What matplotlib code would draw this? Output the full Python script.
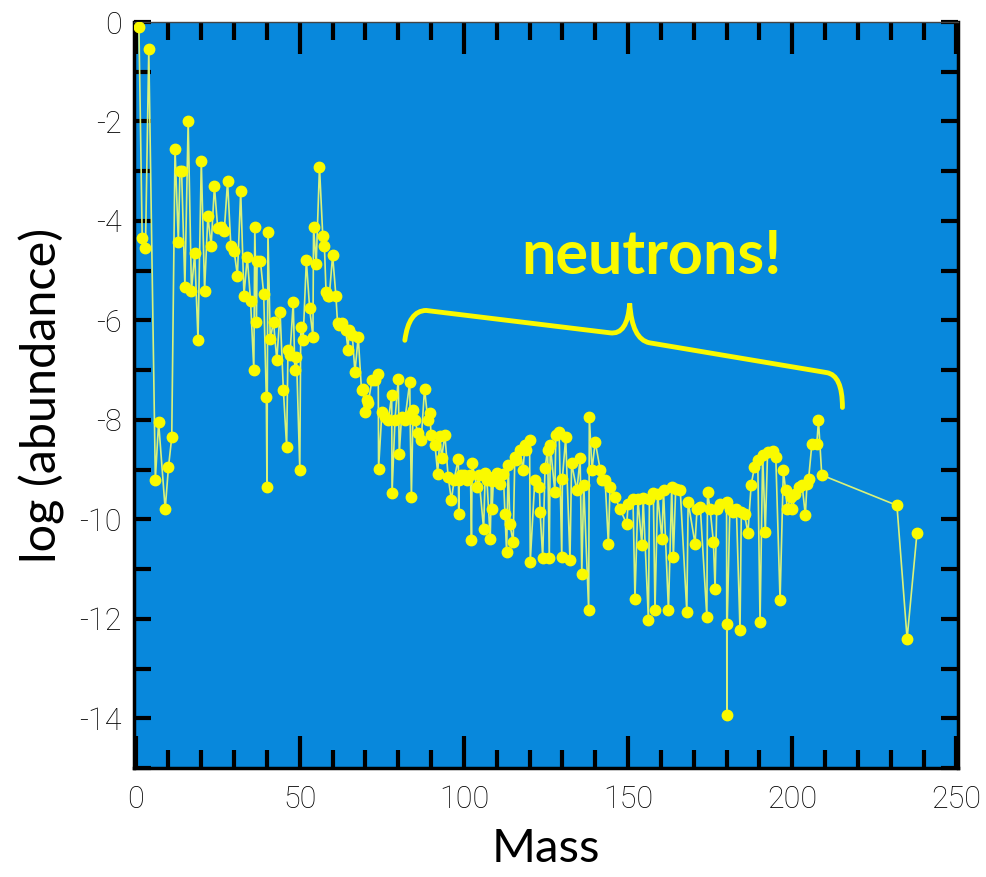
import matplotlib
matplotlib.use("Agg")
import matplotlib.pyplot as plt
from matplotlib.path import Path
from matplotlib.patches import PathPatch
from matplotlib.ticker import MultipleLocator

plt.rcParams['axes.unicode_minus'] = False

# abundance pattern (mass number, log10 abundance)
mass = [1, 2, 3, 4, 6, 7, 9, 10, 11,
        12, 13, 13.5, 14, 15, 16, 17, 18, 19, 20, 21, 22, 23, 24, 25, 26, 27, 28, 29, 30,
        31, 32, 33, 34, 35, 36, 36.3, 36.8, 37, 38, 39, 39.8, 40, 40.3, 41, 42, 43, 44,
        45, 46, 46.4, 47, 48, 48.5, 49, 50, 50.3, 51, 52, 53, 54, 54.2, 55, 56, 57, 57.5,
        58, 58.5, 59, 60, 61, 61.5, 62, 63, 64, 64.7, 65, 66, 66.8, 67.8, 68.8, 69.3,
        69.8, 70.5, 70.8, 72, 73, 73.9, 74, 75, 76, 77, 78, 78.1, 79, 80, 80.3, 81, 82,
        83.5, 83.6, 84, 84.5, 85, 86, 87, 88, 89, 89.6, 90, 91.2, 92, 92.7, 93.2, 94.2,
        95.2, 96.2, 97, 98.3, 98.4, 98.6, 99, 100, 101, 102, 102.3, 102.5, 103.9, 104.5,
        106, 106.5, 107, 108, 108.4, 108.6, 109, 110, 111, 112, 112.5, 113, 113.5, 114,
        115, 115.5, 116, 117, 118, 118.6, 119, 120, 120.2, 121.6, 123, 123.2, 124, 124.7,
        125.5, 126, 126.3, 127.7, 128, 129, 129.8, 130, 131, 132.3, 132.8, 134.4, 135.4,
        135.9, 136.5, 138, 138.2, 139, 140, 141.5, 142, 143, 144, 144.5, 146, 147.6,
        149.6, 150, 151.5, 152.1, 153, 154.2, 154.6, 156.2, 156.5, 157.7, 158.2, 159,
        160.3, 160.8, 162.3, 163.3, 163.8, 164.5, 165.9, 167.9, 168.3, 170.4, 171, 172,
        174, 174.2, 175, 176, 176.5, 177, 178, 180, 180.1, 180.2, 181, 182, 183, 184.1,
        184.5, 185.5, 186.5, 187.5, 188.5, 189.5, 190.2, 191, 191.8, 192.5, 194, 195,
        196.3, 197.3, 198, 198.5, 199.5, 200, 201, 202, 203, 204, 204.5, 205, 206, 207.5,
        208, 209, 231.9, 235, 238]
log_abund = [-0.1, -4.35, -4.55, -0.55, -9.2, -8.05, -9.8, -8.95, -8.35,
             -2.55, -4.42, -3.0, -3.0, -5.33, -2.0, -5.4, -4.65, -6.4, -2.8, -5.4, -3.9,
             -4.5, -3.3, -4.15, -4.12, -4.2, -3.2, -4.5, -4.6,
             -5.1, -3.4, -5.5, -4.72, -5.6, -7.0, -4.12, -6.03, -4.8, -4.8, -5.46, -7.54,
             -9.35, -4.22, -6.37, -6.03, -6.8, -5.83,
             -7.4, -8.55, -6.6, -6.7, -5.63, -7.0, -6.73, -9.0, -6.13, -6.4, -4.79, -5.76,
             -6.33, -4.12, -4.86, -2.91, -4.3, -4.5,
             -5.43, -5.5, -5.5, -4.69, -5.5, -6.06, -6.1, -6.06, -6.2, -6.6, -6.2, -6.3,
             -7.04, -6.33, -7.4, -7.37,
             -7.84, -7.6, -7.67, -7.2, -7.2, -7.07, -8.98, -7.85, -7.95, -8.0, -7.5, -9.48,
             -8.0, -7.17, -8.68, -7.94, -8.0,
             -7.24, -7.9, -9.55, -7.8, -8.0, -8.27, -8.4, -7.37, -8.0, -7.87, -8.3, -8.51,
             -9.08, -8.33, -8.77, -8.3,
             -9.15, -9.62, -9.2, -8.78, -9.9, -9.2, -9.1, -9.1, -9.2, -9.1, -10.42, -8.86,
             -9.35, -9.1,
             -10.2, -9.06, -9.2, -10.4, -9.22, -9.79, -9.15, -9.06, -9.28, -9.08, -9.9,
             -10.66, -8.9, -10.1,
             -10.46, -8.75, -8.8, -8.6, -9.0, -8.5, -8.6, -8.4, -10.86, -9.2, -9.35, -9.85,
             -10.78, -8.97,
             -8.6, -10.78, -8.5, -9.45, -8.3, -8.25, -10.76, -9.18, -8.35, -10.82, -8.87,
             -9.42, -8.77,
             -11.09, -9.3, -11.83, -7.94, -9.0, -8.44, -9.0, -9.2, -9.2, -10.5, -9.35, -9.55,
             -9.8,
             -10.1, -9.7, -9.6, -11.6, -9.6, -10.52, -9.58, -12.03, -9.6, -9.48, -11.83, -9.5,
             -10.39, -9.42, -11.83, -9.35, -10.76, -9.4, -9.42, -11.87, -9.65, -10.49, -9.8,
             -9.75,
             -11.97, -9.45, -9.8, -10.46, -11.4, -9.8, -9.7, -9.65, -13.94, -12.1, -9.8,
             -9.85, -9.8, -12.23,
             -9.85, -9.9, -10.28, -9.3, -8.95, -8.8, -12.07, -8.7, -10.26, -8.65, -8.62,
             -8.75,
             -11.63, -9.01, -9.42, -9.8, -9.55, -9.8, -9.5, -9.35, -9.3, -9.92, -9.28, -9.18,
             -8.48, -8.48,
             -8.01, -9.11, -9.72, -12.4, -10.28]

yellow = '#fafa00'
fig = plt.figure(figsize=(9.86, 8.77), dpi=100)
ax = fig.add_axes([0.1359, 0.1243, 0.8357, 0.8506])
ax.set_facecolor('#0888dc')

ax.plot(mass, log_abund, color='#d9f27a', linewidth=1.2, marker='o',
        markersize=7.5, markerfacecolor=yellow, markeredgecolor=yellow, zorder=3)

ax.set_xlim(-0.5, 250.5)
ax.set_ylim(-15, 0)

ax.xaxis.set_major_locator(MultipleLocator(50))
ax.xaxis.set_minor_locator(MultipleLocator(10))
ax.yaxis.set_major_locator(MultipleLocator(2))
ax.yaxis.set_minor_locator(MultipleLocator(1))
ax.tick_params(axis='x', which='major', direction='in', length=23, width=3,
               top=True, bottom=True, pad=12)
ax.tick_params(axis='x', which='minor', direction='in', length=13, width=3,
               top=True, bottom=True)
ax.tick_params(axis='y', which='both', direction='in', length=12, width=3,
               left=True, right=True, pad=9)
for lab in ax.get_xticklabels() + ax.get_yticklabels():
    lab.set_family(['Roboto', 'DejaVu Sans'])
    lab.set_fontweight('light')
    lab.set_fontsize(22)
    lab.set_color('black')

for s in ax.spines.values():
    s.set_linewidth(2.5)
    s.set_color('black')
ax.spines['top'].set_linewidth(1)
ax.spines['top'].set_color('#444444')

ax.set_xlabel('Mass', fontsize=34, family='Lato', labelpad=10)
ax.set_ylabel('log (abundance)', fontsize=35, family='Lato', labelpad=10)

# curly brace over the s-process region
verts = [(82.0, -6.40), (83.2, -5.80), (88.5, -5.80), (144.5, -6.25),
         (149.8, -6.30), (150.5, -5.66), (151.2, -6.38), (156.5, -6.45),
         (210.5, -7.05), (215.3, -7.10), (215.3, -7.75)]
codes = [Path.MOVETO, Path.CURVE3, Path.CURVE3, Path.LINETO,
         Path.CURVE3, Path.CURVE3, Path.CURVE3, Path.CURVE3,
         Path.LINETO, Path.CURVE3, Path.CURVE3]
ax.add_patch(PathPatch(Path(verts, codes), facecolor='none', edgecolor=yellow,
                       linewidth=3.5, capstyle='round', zorder=4))
ax.text(157, -4.7, 'neutrons!', color=yellow, fontsize=44, fontweight='bold',
        family='Lato', ha='center', va='center', zorder=5)

fig.savefig('out.png', dpi=100)
